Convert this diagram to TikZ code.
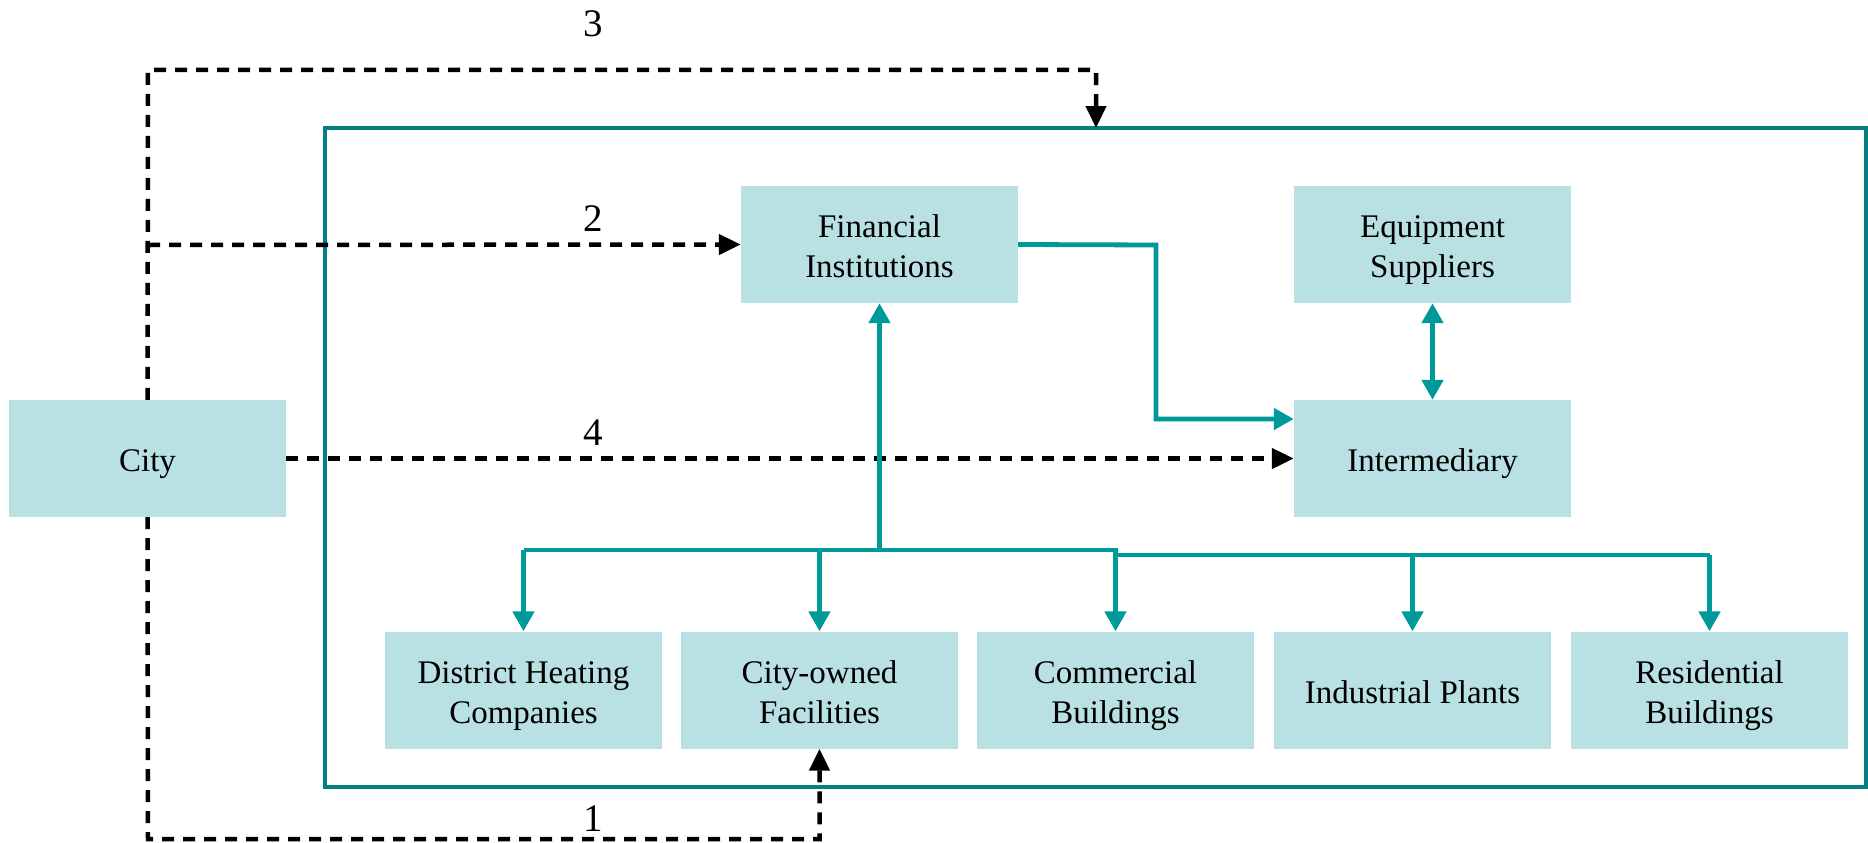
\documentclass[tikz,border=0pt]{standalone}
\usepackage{fontspec}
\setmainfont{Liberation Serif}
\usetikzlibrary{arrows.meta}
\definecolor{boxfill}{HTML}{B9E0E3}
\definecolor{tealline}{HTML}{009999}
\definecolor{frameline}{HTML}{008080}
\newcommand{\btext}[1]{\raisebox{-5pt}[\height][\depth]{\begin{tabular}{@{}c@{}}#1\end{tabular}}}
\tikzset{
  entity/.style={fill=boxfill, draw=none, minimum width=277pt, minimum height=117pt, inner sep=0pt, align=center, font=\fontsize{33}{40}\selectfont},
  tealarrow/.style={draw=tealline, line width=4.8pt, -{Triangle[length=20pt,width=21pt]}},
  tealline/.style={draw=tealline, line width=4.8pt},
  dasharrow/.style={draw=black, line width=4.5pt, dash pattern=on 12pt off 9pt, -{Triangle[length=22pt,width=20pt]}},
  numlabel/.style={font=\fontsize{39}{46}\selectfont, inner sep=0pt}
}
\begin{document}
\begin{tikzpicture}[x=1pt,y=-1pt]
\useasboundingbox (0,0) rectangle (1868,843);
% frame
\node[draw=frameline, line width=3.2pt, minimum width=1541pt, minimum height=659pt, inner sep=0pt] (frame) at (1095.5,457.5) {};
% nodes
\node[entity] (city) at (147.5,458.5) {\btext{City}};
\node[entity] (fin) at (879.5,244.5) {\btext{Financial\\Institutions}};
\node[entity] (eq) at (1432.5,244.5) {\btext{Equipment\\Suppliers}};
\node[entity] (int) at (1432.5,458.5) {\btext{Intermediary}};
\node[entity] (dh) at (523.5,690) {\btext{District Heating\\Companies}};
\node[entity] (co) at (819.5,690) {\btext{City-owned\\Facilities}};
\node[entity] (cb) at (1115.5,690) {\btext{Commercial\\Buildings}};
\node[entity] (ip) at (1412.5,690) {\btext{Industrial Plants}};
\node[entity] (rb) at (1709.5,690) {\btext{Residential\\Buildings}};
% coordinates
\coordinate (c3a) at (148,70);
\coordinate (c3b) at (1096,70);
\coordinate (c3c) at (1096,128);
\coordinate (c2) at (148,245);
\coordinate (c1a) at (148,839);
\coordinate (c1b) at (819.5,839);
\coordinate (hub) at (879.5,550);
\coordinate (finr) at (1156,245);
\coordinate (finr2) at (1156,419);
% dashed connectors
\draw[dasharrow] (city.north) -- (c3a) -- (c3b) -- (c3c);
\draw[dasharrow] (c2) -- (fin.west);
\draw[dasharrow] (city.east) -- (int.west);
\draw[dasharrow] (city.south) -- (c1a) -- (c1b) -- (co.south);
% teal connectors
\draw[tealarrow] (hub) -- (fin.south);
\draw[tealline] (dh.north |- 0,550) -- (cb.north |- 0,550) -- (cb.north |- 0,555) -- (rb.north |- 0,555);
\draw[tealarrow] (dh.north |- 0,550) -- (dh.north);
\draw[tealarrow] (co.north |- 0,550) -- (co.north);
\draw[tealarrow] (cb.north |- 0,550) -- (cb.north);
\draw[tealarrow] (ip.north |- 0,555) -- (ip.north);
\draw[tealarrow] (rb.north |- 0,555) -- (rb.north);
\draw[tealarrow] (fin.east) -- (finr) -- (finr2) -- (int.west |- finr2);
\draw[draw=tealline, line width=4.8pt, {Triangle[length=20pt,width=21pt]}-{Triangle[length=20pt,width=21pt]}] (eq.south) -- (int.north);
% labels
\node[numlabel] (n3) at (593,24) {3};
\node[numlabel] (n2) at (593,219) {2};
\node[numlabel] (n4) at (593,433) {4};
\node[numlabel] (n1) at (593,819) {1};
\end{tikzpicture}
\end{document}
